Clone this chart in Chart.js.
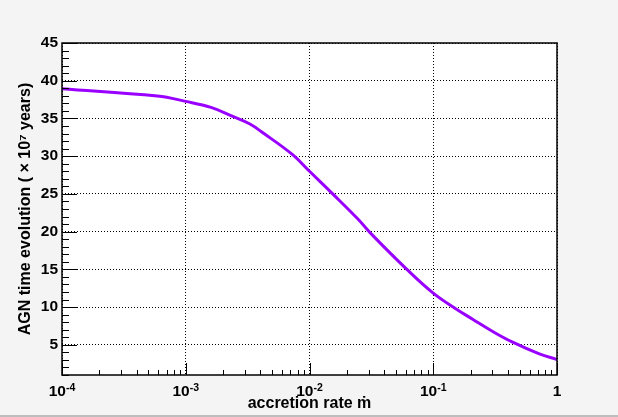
<!DOCTYPE html>
<html lang="en">
<head>
    <meta charset="UTF-8">
    <title>AGN time evolution</title>
    <style>
        * { margin: 0; padding: 0; box-sizing: border-box; }
        body { background: #f4f4f4; width: 618px; height: 417px; overflow: hidden; }
        #chart { display: block; }
    </style>
</head>
<body>
<canvas id="chart" width="618" height="417"></canvas>

<script src="https://cdn.jsdelivr.net/npm/chart.js"></script>
<script>
    // values
    const accretionRate = [1e-4, 5.9e-4, 1e-3, 1.6e-3, 2.4e-3, 3.3e-3, 4.2e-3, 7.3e-3, 0.01, 0.0154,
                           0.0245, 0.0324, 0.0603, 0.1, 0.153, 0.208, 0.3, 0.438, 0.72, 1];
    const timeEvolution = [38.94, 37.97, 37.26, 36.46, 35.27, 34.26, 33.1, 30.2, 28.0, 25.0,
                           21.7, 19.5, 15.1, 11.85, 9.75, 8.4, 6.8, 5.35, 3.8, 3.05];
    const xTicks = [1e-4, 1e-3, 1e-2, 1e-1, 1];
    const xTickBase = ["10", "10", "10", "10", "1"];
    const xTickExp = ["-4", "-3", "-2", "-1", ""];
    const yTicks = [5, 10, 15, 20, 25, 30, 35, 40, 45];

    const FONT = '"Liberation Sans", Arial, Helvetica, sans-serif';

    // ROOT style frame: gray pad, white frame, ticks inside, 10^n labels
    const rootFrame = {
        id: "rootFrame",
        beforeDraw(chart) {
            const { ctx, chartArea: a } = chart;
            ctx.save();
            ctx.fillStyle = "#f4f4f4";
            ctx.fillRect(0, 0, chart.width, chart.height);
            ctx.fillStyle = "#bdbdbd";
            ctx.fillRect(0, 415, chart.width, 2);
            ctx.fillStyle = "#ffffff";
            ctx.fillRect(a.left, a.top, a.right - a.left, a.bottom - a.top);
            ctx.restore();
        },
        afterDraw(chart) {
            const { ctx, chartArea: a, scales } = chart;
            ctx.save();
            ctx.strokeStyle = "#000";
            ctx.lineWidth = 1;
            ctx.beginPath();
            // x ticks, log minor ticks between decades
            for (let d = -4; d <= 0; d++) {
                for (let k = 1; k <= 9; k++) {
                    const v = k * Math.pow(10, d);
                    if (v > 1.0001) break;
                    const px = Math.round(scales.x.getPixelForValue(v)) + 0.5;
                    const len = k === 1 ? 12 : 5;
                    ctx.moveTo(px, a.bottom);
                    ctx.lineTo(px, a.bottom - len);
                }
            }
            // y ticks, minor every 1
            for (let v = 1; v <= 45; v++) {
                const py = Math.round(scales.y.getPixelForValue(v)) + 0.5;
                const len = v % 5 === 0 ? 15 : 7;
                ctx.moveTo(a.left, py);
                ctx.lineTo(a.left + len, py);
            }
            ctx.stroke();
            ctx.lineWidth = 1.5;
            ctx.strokeRect(a.left, a.top, a.right - a.left, a.bottom - a.top);

            // x labels with raised exponent
            ctx.fillStyle = "#000";
            ctx.textBaseline = "alphabetic";
            ctx.textAlign = "left";
            xTicks.forEach((v, i) => {
                const px = scales.x.getPixelForValue(v);
                ctx.font = "bold 15.5px " + FONT;
                const wb = ctx.measureText(xTickBase[i]).width;
                ctx.font = "bold 10.5px " + FONT;
                const we = xTickExp[i] ? ctx.measureText(xTickExp[i]).width : 0;
                const x0 = px - (wb + we) / 2;
                ctx.font = "bold 15.5px " + FONT;
                ctx.fillText(xTickBase[i], x0, 396);
                if (xTickExp[i]) {
                    ctx.font = "bold 10.5px " + FONT;
                    ctx.fillText(xTickExp[i], x0 + wb, 391);
                }
            });
            ctx.restore();
        }
    };

    const points = accretionRate.map((x, i) => ({ x: x, y: timeEvolution[i] }));

    new Chart(document.getElementById("chart"), {
        type: "line",
        data: {
            datasets: [{
                data: points,
                borderColor: "#9900ff",
                borderWidth: 3,
                pointRadius: 0,
                tension: 0.4,
                fill: false
            }]
        },
        options: {
            responsive: false,
            animation: false,
            layout: { padding: { top: 43, right: 61, left: 0, bottom: 0 } },
            plugins: { legend: { display: false }, tooltip: { enabled: false } },
            scales: {
                x: {
                    type: "logarithmic",
                    min: 1e-4,
                    max: 1,
                    afterBuildTicks: s => { s.ticks = xTicks.map(v => ({ value: v })); },
                    afterFit: s => { s.height = 42; },
                    ticks: { display: false },
                    grid: { color: "#000", lineWidth: 1, drawTicks: false },
                    border: { display: false, dash: [1, 2] },
                    title: {
                        display: true,
                        text: "accretion rate ṁ",
                        color: "#000",
                        font: { family: FONT, size: 16, weight: "bold" },
                        padding: { top: 0, bottom: 4 }
                    }
                },
                y: {
                    min: 1,
                    max: 45,
                    afterBuildTicks: s => { s.ticks = yTicks.map(v => ({ value: v })); },
                    afterFit: s => { s.width = 62; },
                    ticks: {
                        padding: 4,
                        color: "#000",
                        font: { family: FONT, size: 15.5, weight: "bold" }
                    },
                    grid: { color: "#000", lineWidth: 1, drawTicks: false },
                    border: { display: false, dash: [1, 2] },
                    title: {
                        display: true,
                        text: "AGN time evolution ( × 10⁷ years)",
                        color: "#000",
                        font: { family: FONT, size: 16, weight: "bold" },
                        padding: { top: 16, bottom: 0 }
                    }
                }
            }
        },
        plugins: [rootFrame]
    });
</script>
</body>
</html>
